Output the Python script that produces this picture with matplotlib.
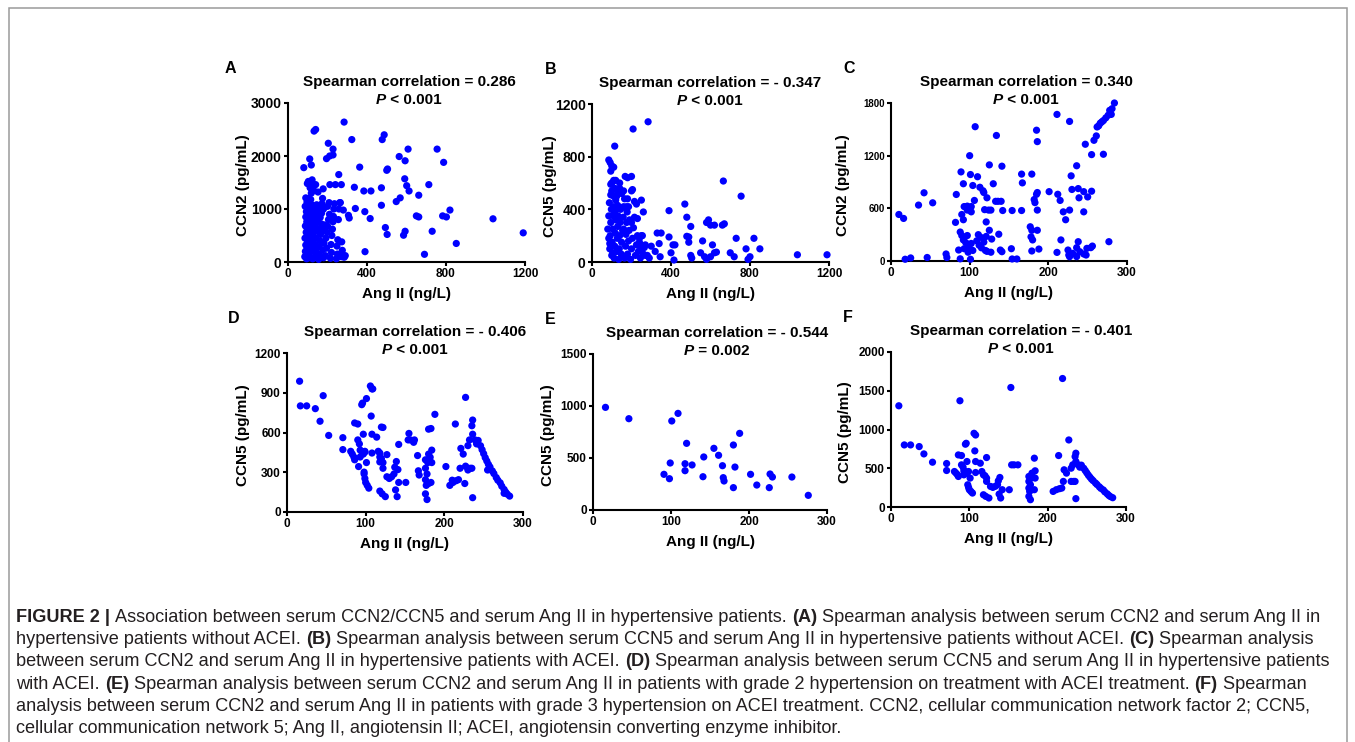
import numpy as np
import matplotlib
matplotlib.use('Agg')
import matplotlib.pyplot as plt
from matplotlib import font_manager
from matplotlib.patches import Rectangle

# ---- data (Ang II ng/L, CCN pg/mL) ----
# A: CCN2 vs Ang II, hypertensive patients without ACEI
a_points = [
    (284, 2640), (132, 2470), (140, 2500), (323, 2310), (204, 2240), (228, 2130),
    (487, 2400), (477, 2310), (80, 1780), (110, 1945), (118, 1830), (195, 1950),
    (211, 2000), (228, 2020), (363, 1790), (504, 1755), (500, 1730), (563, 1990),
    (593, 1910), (608, 2130), (755, 2130), (788, 1880), (257, 1650), (591, 1570),
    (601, 1440), (613, 1340), (713, 1460), (336, 1410), (384, 1340), (420, 1340),
    (473, 1400), (473, 1070), (341, 1010), (389, 950), (416, 820), (306, 880),
    (310, 830), (548, 1140), (568, 1210), (662, 1260), (650, 870), (662, 850),
    (783, 870), (820, 980), (802, 850), (1038, 815), (1191, 550), (852, 350),
    (691, 145), (730, 580), (493, 650), (502, 520), (593, 580), (585, 505),
    (390, 195), (240, 1460), (270, 1460), (265, 1120),
    (85, 100), (88, 200), (90, 320), (86, 450), (92, 560), (88, 680), (95, 760),
    (90, 850), (93, 950), (87, 1050), (96, 1130), (90, 1210), (98, 1480), (94, 60),
    (100, 150), (97, 260), (99, 400), (101, 520), (98, 620), (102, 720), (100, 880),
    (104, 980), (102, 1100), (105, 1200), (103, 1520), (108, 80), (110, 180),
    (112, 300), (108, 420), (114, 500), (110, 600), (116, 700), (112, 800),
    (118, 900), (110, 1000), (120, 1080), (115, 1180), (118, 1300), (112, 1400),
    (120, 1500), (122, 1550), (125, 60), (124, 250), (126, 380), (128, 480),
    (123, 560), (127, 650), (129, 760), (125, 870), (130, 950), (126, 1030),
    (130, 1350), (128, 1450), (135, 100), (140, 200), (138, 330), (142, 450),
    (145, 580), (138, 680), (148, 780), (142, 880), (150, 980), (145, 1080),
    (152, 1320), (140, 1460), (155, 50), (160, 140), (158, 280), (162, 400),
    (165, 520), (160, 620), (168, 720), (163, 840), (170, 920), (165, 1010),
    (172, 1100), (175, 1200), (178, 1380), (180, 80), (176, 230), (182, 360),
    (178, 600), (185, 700), (180, 1000), (190, 120), (195, 260), (192, 450),
    (198, 560), (200, 680), (205, 800), (210, 900), (200, 1050), (208, 1120),
    (212, 1460), (215, 70), (220, 180), (218, 330), (222, 500), (225, 620),
    (228, 760), (230, 860), (232, 1000), (235, 1100), (245, 60), (250, 150),
    (248, 300), (252, 420), (255, 800), (258, 1000), (262, 1120), (270, 100),
    (275, 220), (272, 380), (278, 100), (285, 90), (290, 120), (280, 980),
]

# B: CCN5 vs Ang II, hypertensive patients without ACEI
b_points = [
    (284, 1065), (208, 1010), (115, 880), (85, 775), (92, 755), (100, 730),
    (110, 720), (95, 690), (168, 650), (200, 650), (665, 615), (755, 500),
    (100, 600), (120, 620), (115, 560), (140, 560), (200, 540), (160, 540),
    (130, 520), (95, 510), (110, 500), (180, 480), (215, 460), (250, 470),
    (260, 380), (390, 390), (470, 440), (480, 340), (490, 190), (500, 270),
    (480, 195), (490, 150), (580, 300), (590, 320), (600, 280), (620, 280),
    (660, 280), (670, 290), (730, 180), (820, 180), (850, 100), (780, 100),
    (800, 40), (790, 20), (700, 70), (720, 40), (1040, 55), (1190, 55),
    (330, 220), (350, 220), (390, 190), (410, 130), (420, 130), (400, 70),
    (415, 15), (340, 140), (345, 40), (320, 80), (300, 120), (500, 50),
    (505, 30), (550, 70), (560, 160), (570, 40), (580, 20), (600, 40),
    (610, 130), (620, 70), (630, 75), (280, 50), (290, 30), (250, 200),
    (270, 130),
    (80, 250), (85, 350), (88, 450), (90, 100), (92, 200), (95, 300), (98, 400),
    (100, 50), (102, 150), (105, 250), (108, 350), (110, 420), (112, 30),
    (115, 120), (118, 220), (120, 320), (122, 400), (125, 80), (128, 180),
    (130, 270), (132, 350), (135, 20), (138, 100), (140, 200), (142, 300),
    (145, 400), (148, 60), (150, 150), (155, 240), (158, 340), (160, 420),
    (165, 30), (170, 120), (172, 210), (175, 300), (178, 380), (180, 60),
    (185, 160), (188, 240), (190, 320), (195, 20), (200, 100), (205, 180),
    (210, 260), (215, 340), (220, 50), (225, 130), (230, 200), (235, 80),
    (240, 150), (245, 30), (250, 100), (255, 200), (260, 60), (95, 590),
    (110, 620), (130, 430), (150, 520), (175, 420), (185, 420), (165, 480),
    (205, 550), (225, 440), (120, 470), (100, 540), (140, 600), (180, 640),
    (90, 140), (85, 180), (105, 70), (115, 380), (125, 500), (160, 250),
    (200, 300), (230, 330), (240, 180), (250, 120), (270, 50), (265, 110),
]

# C: CCN2 vs Ang II, hypertensive patients with ACEI
c_points = [
    (10, 530), (16, 485), (18, 20), (25, 35), (35, 637), (42, 777), (53, 663),
    (46, 40), (70, 80), (71, 40), (83, 758), (82, 440), (86, 125), (88, 25),
    (89, 1015), (92, 880), (100, 1200), (101, 985), (104, 860), (106, 690),
    (102, 620), (97, 625), (93, 620), (90, 530), (92, 470), (97, 580), (102, 560),
    (88, 330), (90, 290), (92, 240), (95, 210), (97, 290), (99, 170), (102, 200),
    (104, 120), (98, 100), (101, 20), (93, 140), (107, 1530), (110, 960),
    (113, 840), (117, 800), (118, 780), (122, 720), (125, 1095), (119, 585),
    (121, 445), (124, 580), (127, 580), (125, 350), (121, 280), (111, 300),
    (109, 230), (112, 180), (115, 150), (118, 215), (120, 120), (122, 110),
    (127, 100), (114, 270), (128, 250), (134, 1430), (141, 1080), (130, 880),
    (133, 680), (136, 680), (140, 680), (142, 575), (137, 305), (139, 125),
    (141, 106), (153, 140), (154, 23), (160, 23), (154, 575), (166, 575),
    (166, 990), (167, 890), (179, 990), (177, 390), (179, 350), (178, 275),
    (180, 240), (179, 114), (183, 665), (182, 700), (185, 760), (186, 780),
    (185, 1490), (186, 1360), (186, 580), (186, 350), (188, 136), (201, 790),
    (211, 1670), (212, 760), (211, 98), (215, 690), (216, 240), (219, 560),
    (222, 470), (227, 580), (227, 1590), (229, 970), (230, 815), (236, 1085),
    (238, 825), (239, 720), (245, 790), (245, 560), (250, 730), (255, 795),
    (249, 144), (254, 152), (256, 170), (238, 220), (236, 152), (240, 106),
    (236, 50), (225, 125), (226, 68), (227, 49), (231, 87), (245, 80), (248, 68),
    (247, 1330), (255, 1212), (258, 1375), (261, 1425), (262, 1527), (264, 1540),
    (266, 1570), (268, 1585), (270, 1600), (273, 1630), (276, 1660), (278, 1716),
    (280, 1670), (281, 1735), (284, 1800), (270, 1216), (277, 220),
]

# E: CCN5 vs Ang II, grade 2 hypertension on ACEI
e_points = [
    (16, 987), (46, 878), (91, 343), (98, 301), (99, 452), (101, 856), (109, 929),
    (118, 378), (118, 445), (120, 641), (127, 433), (142, 510), (141, 320),
    (155, 593), (161, 526), (166, 426), (167, 311), (168, 279), (180, 215),
    (180, 625), (182, 413), (188, 737), (202, 343), (210, 240), (226, 215),
    (227, 346), (230, 317), (255, 317), (276, 141),
]

# F: CCN5 vs Ang II, grade 3 hypertension on ACEI
f_points = [
    (10, 1306), (17, 801), (25, 801), (36, 780), (42, 685), (53, 578), (71, 561),
    (71, 471), (81, 458), (83, 437), (85, 415), (86, 394), (88, 1371), (86, 672),
    (90, 664), (95, 810), (96, 822), (90, 544), (92, 514), (93, 467), (93, 415),
    (95, 458), (97, 437), (99, 458), (97, 587), (98, 287), (99, 253), (100, 223),
    (101, 373), (102, 201), (104, 180), (106, 951), (108, 929), (107, 724),
    (108, 587), (108, 445), (114, 565), (116, 458), (118, 415), (120, 403),
    (122, 373), (122, 330), (122, 638), (118, 158), (121, 137), (125, 116),
    (127, 266), (130, 253), (133, 266), (136, 287), (137, 338), (139, 381),
    (138, 167), (140, 116), (142, 223), (151, 223), (153, 1542), (154, 544),
    (157, 544), (162, 544), (176, 394), (176, 330), (178, 287), (176, 244),
    (177, 201), (176, 137), (178, 94), (180, 437), (179, 373), (183, 630),
    (184, 467), (184, 373), (183, 223), (207, 201), (211, 223), (215, 236),
    (218, 244), (214, 664), (219, 1658), (220, 330), (221, 480), (224, 437),
    (227, 865), (230, 501), (232, 544), (230, 330), (233, 330), (235, 330),
    (235, 651), (236, 694), (236, 587), (239, 544), (241, 514), (236, 108),
    (243, 540), (246, 500), (248, 470), (250, 440), (252, 410), (254, 385),
    (256, 360), (258, 340), (261, 310), (263, 290), (266, 260), (268, 240),
    (271, 220), (273, 195), (276, 170), (278, 150), (280, 135), (283, 120),
]

# D: CCN5 vs Ang II, all patients with ACEI (grade 2 + grade 3, inside the 0-1200 axis)
d_points = [p for p in e_points + f_points if p[1] <= 1200]

rho = ['0.286', '- 0.347', '0.340', '- 0.406', '- 0.544', '- 0.401']
pvals = ['< 0.001', '< 0.001', '< 0.001', '< 0.001', '= 0.002', '< 0.001']

W, H = 1355, 742
fig = plt.figure(figsize=(W / 100, H / 100), dpi=100)
renderer = fig.canvas.get_renderer()

avail = {f.name for f in font_manager.fontManager.ttflist}
main_font = 'Liberation Sans' if 'Liberation Sans' in avail else 'DejaVu Sans'
cap_font = main_font


def fx(px):
    return px / W


def fy(py):
    return 1 - py / H


def seg_width(text, size, weight, style, family):
    kw = dict(fontsize=size, fontweight=weight, fontstyle=style, family=family)
    t1 = fig.text(0, 0, text + 'x', **kw)
    t2 = fig.text(0, 0, 'x', **kw)
    w = t1.get_window_extent(renderer).width - t2.get_window_extent(renderer).width
    t1.remove()
    t2.remove()
    return w


def draw_segments(x, y, segs, size, family, color, center=False, measure=False):
    widths = [seg_width(t, size, w, s, family) for t, w, s in segs]
    if measure:
        return sum(widths)
    if center:
        x -= sum(widths) / 2
    for (t, w, s), wd in zip(segs, widths):
        fig.text(fx(x), fy(y), t, fontsize=size, fontweight=w, fontstyle=s,
                 family=family, color=color, va='baseline', ha='left')
        x += wd


# layout in pixels: axes box (left, top, right, bottom), title centre, letter x, ylabel x
panels = [
    ('A', a_points, (288, 103, 525, 262), 1200, [0, 400, 800, 1200], 3000,
     [0, 1000, 2000, 3000], 'CCN2 (pg/mL)', 409, 225, 243, 10),
    ('B', b_points, (592, 104, 829, 262), 1200, [0, 400, 800, 1200], 1200,
     [0, 400, 800, 1200], 'CCN5 (pg/mL)', 710, 545, 550, 10),
    ('C', c_points, (891, 103, 1127, 261), 300, [0, 100, 200, 300], 1800,
     [0, 600, 1200, 1800], 'CCN2 (pg/mL)', 1026, 843, 843, 7),
    ('D', d_points, (287, 353, 523, 512), 300, [0, 100, 200, 300], 1200,
     [0, 300, 600, 900, 1200], 'CCN5 (pg/mL)', 415, 228, 243, 8.5),
    ('E', e_points, (593, 354, 827, 510), 300, [0, 100, 200, 300], 1500,
     [0, 500, 1000, 1500], 'CCN5 (pg/mL)', 717, 545, 548, 8.5),
    ('F', f_points, (891, 352, 1126, 507), 300, [0, 100, 200, 300], 2000,
     [0, 500, 1000, 1500, 2000], 'CCN5 (pg/mL)', 1021, 843, 845, 8.5),
]

for i, (letter, pts, box, xmax, xt, ymax, yt, ylab, tcx, lx, ylx, ysz) in enumerate(panels):
    l, t, r, b = box
    ax = fig.add_axes([fx(l), fy(b), (r - l) / W, (b - t) / H])
    x, y = np.array(pts, dtype=float).T
    ax.scatter(x, y, s=27, color='#0000ff', edgecolors='none', clip_on=False, zorder=3)
    ax.set_xlim(0, xmax)
    ax.set_ylim(0, ymax)
    ax.set_xticks(xt)
    ax.set_yticks(yt)
    for side in ['top', 'right']:
        ax.spines[side].set_visible(False)
    for side in ['left', 'bottom']:
        ax.spines[side].set_linewidth(1.5)
    ax.tick_params(direction='out', length=3, width=1.5, pad=1.5)
    for lab in ax.get_xticklabels():
        lab.set_fontsize(8.5)
        lab.set_fontweight('bold')
        lab.set_family(main_font)
    for lab in ax.get_yticklabels():
        lab.set_fontsize(ysz)
        lab.set_fontweight('bold')
        lab.set_family(main_font)

    fig.text(fx(lx), fy(t - 30), letter, fontsize=11.5, fontweight='bold',
             family=main_font, va='baseline')
    fig.text(fx(tcx), fy(t - 17), 'Spearman correlation = ' + rho[i], fontsize=11,
             fontweight='bold', family=main_font, ha='center', va='baseline')
    draw_segments(tcx, t + 1, [('P', 'bold', 'italic'), (' ' + pvals[i], 'bold', 'normal')],
                  11, main_font, 'black', center=True)
    fig.text(fx((l + r) / 2), fy(b + 32), 'Ang II (ng/L)', fontsize=11, fontweight='bold',
             family=main_font, ha='center', va='center')
    fig.text(fx(ylx), fy((t + b) / 2 + 3), ylab, fontsize=11, fontweight='bold',
             family=main_font, ha='center', va='center', rotation=90)

# caption
B_, R_ = 'bold', 'normal'
cap_lines = [
    [('FIGURE 2 | ', B_), ('Association between serum CCN2/CCN5 and serum Ang II in hypertensive patients. ', R_),
     ('(A)', B_), (' Spearman analysis between serum CCN2 and serum Ang II in', R_)],
    [('hypertensive patients without ACEI. ', R_), ('(B)', B_),
     (' Spearman analysis between serum CCN5 and serum Ang II in hypertensive patients without ACEI. ', R_),
     ('(C)', B_), (' Spearman analysis', R_)],
    [('between serum CCN2 and serum Ang II in hypertensive patients with ACEI. ', R_), ('(D)', B_),
     (' Spearman analysis between serum CCN5 and serum Ang II in hypertensive patients', R_)],
    [('with ACEI. ', R_), ('(E)', B_),
     (' Spearman analysis between serum CCN2 and serum Ang II in patients with grade 2 hypertension on treatment with ACEI treatment. ', R_),
     ('(F)', B_), (' Spearman', R_)],
    [('analysis between serum CCN2 and serum Ang II in patients with grade 3 hypertension on ACEI treatment. CCN2, cellular communication network factor 2; CCN5,', R_)],
    [('cellular communication network 5; Ang II, angiotensin II; ACEI, angiotensin converting enzyme inhibitor.', R_)],
]
cap_base = [622, 644, 666, 689, 711, 733]

# fit the caption size so the longest line ends near the right edge of the reference text
widest = max(draw_segments(16, 0, [(tx, w, 'normal') for tx, w in line], 10, cap_font, 'k',
                           measure=True) for line in cap_lines)
cap_size = 10 * (1333 - 16) / widest
for line, yb in zip(cap_lines, cap_base):
    draw_segments(16, yb, [(tx, w, 'normal') for tx, w in line], cap_size, cap_font, '#231f20')

# thin page frame
fig.add_artist(Rectangle((fx(9), fy(760)), (1347 - 9) / W, (760 - 8) / H,
                         transform=fig.transFigure, fill=False, edgecolor='#9a9a9a',
                         linewidth=1.1, clip_on=False))

fig.savefig('out.png', dpi=100)
